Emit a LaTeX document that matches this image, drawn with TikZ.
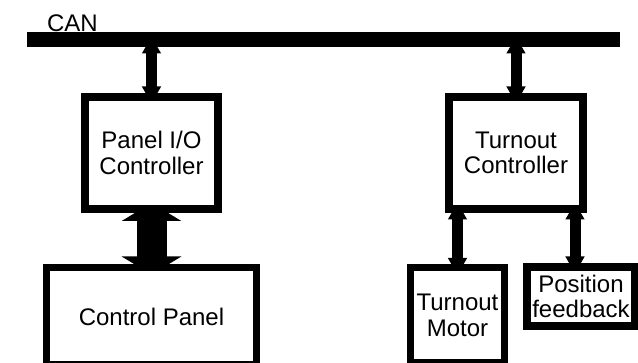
\documentclass[tikz,border=0pt]{standalone}
\usepackage{fontspec}
\setmainfont{Liberation Sans}
\usetikzlibrary{arrows.meta}
\pgfdeclarelayer{back}
\pgfdeclarelayer{bg}
\pgfsetlayers{back,bg,main}
\begin{document}
\begin{tikzpicture}[x=1pt,y=-1pt,
  every node/.style={outer sep=0pt,inner sep=0pt},
  txt/.style={font=\fontsize{24}{25.5}\selectfont,align=center},
  boxa/.style={txt,draw=black,fill=white,line width=8pt},
  boxb/.style={txt,draw=black,fill=white,line width=7pt},
  sarrow/.style={line width=11pt,{Triangle[width=18pt,length=17pt]}-{Triangle[width=18pt,length=17pt]}},
  barrow/.style={line width=30pt,{Triangle[width=59pt,length=18pt]}-{Triangle[width=59pt,length=18pt]}}
]
\clip (0,0) rectangle (638,363);
\begin{pgfonlayer}{back}
\fill[white] (0,0) rectangle (638,363);
\end{pgfonlayer}
% bus
\node[fill=black,minimum width=593pt,minimum height=15pt] (can) at (323.5,39.5) {};
\node[txt,anchor=base west] (canlbl) at (47,32) {CAN};
% boxes
\node[boxa,minimum width=133pt,minimum height=112pt] (pio) at (151.5,153) {Panel I/O\\Controller};
\node[boxa,minimum width=134pt,minimum height=112pt] (tc) at (516,153) {Turnout\\Controller};
\node[boxb,minimum width=210pt,minimum height=97pt] (cp) at (151.5,316.5) {Control Panel};
\node[boxb,minimum width=94pt,minimum height=95pt] (tm) at (457.5,315.5) {Turnout\\Motor};
\node[boxa,minimum width=108pt,minimum height=59pt] (pf) at (581,296.5) {Position\\feedback};
\coordinate (pfa) at (575,0);
% connectors
\begin{pgfonlayer}{bg}
\draw[sarrow,shorten <=-10.5pt,shorten >=-6.5pt] (can.south -| pio.north) -- (pio.north);
\draw[sarrow,shorten <=-10.5pt,shorten >=-6.5pt] (can.south -| tc.north) -- (tc.north);
\draw[barrow,shorten <=-6pt,shorten >=-6.5pt] (pio.south) -- (cp.north);
\draw[sarrow,shorten <=-6.5pt,shorten >=-7pt] (tc.south -| tm.north) -- (tm.north);
\draw[sarrow,shorten <=-6.5pt,shorten >=-6.5pt] (tc.south -| pfa) -- (pf.north -| pfa);
\end{pgfonlayer}
\end{tikzpicture}
\end{document}
